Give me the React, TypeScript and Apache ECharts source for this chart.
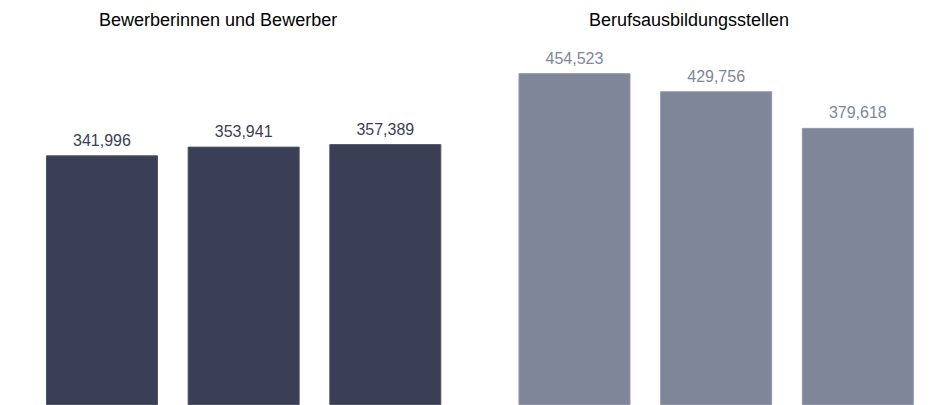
import React, { useEffect, useRef } from "react";
import * as echarts from "echarts";

const categories = ["1", "2", "3"];
const applicants = [341996, 353941, 357389];
const positions = [454523, 429756, 379618];
const titles = ["Bewerberinnen und Bewerber", "Berufsausbildungsstellen"];

const FONT = "'Liberation Sans', Arial, Helvetica, sans-serif";
const DARK = "#3a3f55";
const LIGHT = "#80869a";

const fmt = (v: number) => v.toLocaleString("en-US");

export default function App() {
  const ref = useRef<HTMLDivElement>(null);
  useEffect(() => {
    if (!ref.current) return;
    const chart = echarts.init(ref.current, null, { renderer: "svg" });
    const gridTop = 40;
    const gridHeight = 375;
    chart.setOption({
      animation: false,
      backgroundColor: "#ffffff",
      title: [
        {
          text: titles[0],
          left: 99,
          top: 11,
          padding: 0,
          textStyle: { fontFamily: FONT, fontSize: 18, fontWeight: "normal", color: "#000000" },
        },
        {
          text: titles[1],
          left: 589,
          top: 11,
          padding: 0,
          textStyle: { fontFamily: FONT, fontSize: 18, fontWeight: "normal", color: "#000000" },
        },
      ],
      grid: [
        { left: 31.15, top: gridTop, width: 425, height: gridHeight },
        { left: 503.65, top: gridTop, width: 425, height: gridHeight },
      ],
      xAxis: [
        { type: "category", gridIndex: 0, data: categories, show: false },
        { type: "category", gridIndex: 1, data: categories, show: false },
      ],
      yAxis: [
        { type: "value", gridIndex: 0, min: 0, max: 500000, show: false, splitLine: { show: false } },
        { type: "value", gridIndex: 1, min: 0, max: 500000, show: false, splitLine: { show: false } },
      ],
      series: [
        {
          type: "bar",
          xAxisIndex: 0,
          yAxisIndex: 0,
          data: applicants,
          barWidth: 112,
          itemStyle: { color: DARK, borderColor: "#4d5266", borderWidth: 1 },
          label: {
            show: true,
            position: "top",
            distance: 7,
            formatter: (p: any) => fmt(p.value),
            fontFamily: FONT,
            fontSize: 16,
            color: DARK,
          },
        },
        {
          type: "bar",
          xAxisIndex: 1,
          yAxisIndex: 1,
          data: positions,
          barWidth: 112,
          itemStyle: { color: LIGHT, borderColor: "#9096a8", borderWidth: 1 },
          label: {
            show: true,
            position: "top",
            distance: 7,
            formatter: (p: any) => fmt(p.value),
            fontFamily: FONT,
            fontSize: 16,
            color: LIGHT,
          },
        },
      ],
    });
    return () => chart.dispose();
  }, []);
  return (
    <div
      ref={ref}
      style={{ position: "absolute", left: 0, top: 0, width: 941, height: 405 }}
    />
  );
}
